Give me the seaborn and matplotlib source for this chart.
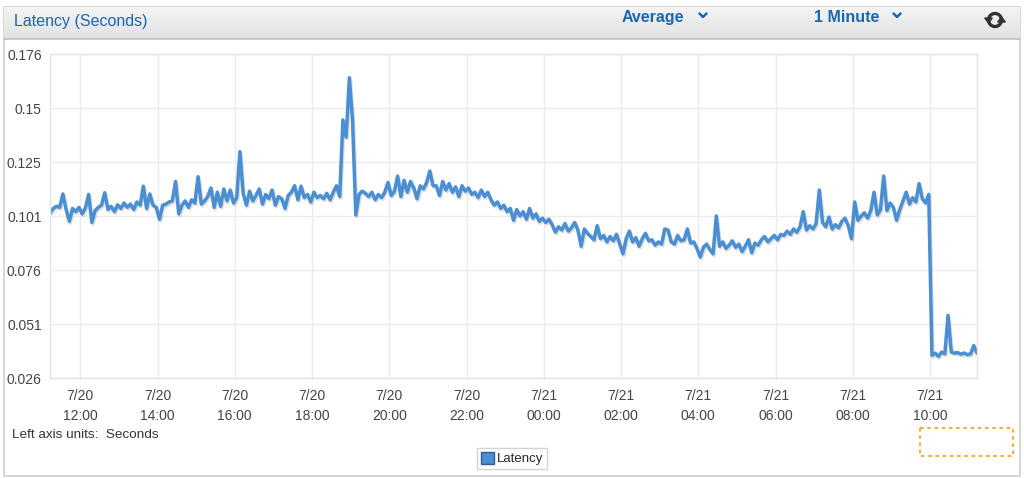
import matplotlib
matplotlib.use("Agg")
import numpy as np
import pandas as pd
import matplotlib.pyplot as plt
import matplotlib.dates as mdates
import matplotlib.patheffects as pe
from matplotlib.patches import Rectangle, Patch, Polygon
from matplotlib.colors import LinearSegmentedColormap
import seaborn as sns

# ---------------- data ----------------
chart_title = "Latency (Seconds)"
statistic_label = "Average"
period_label = "1 Minute"
series_name = "Latency"
units_note = "Left axis units:  Seconds"

start_time = "2013-07-20 11:13"
step_minutes = 5

latency_values = [
    # 11:13 - 12:08
    0.1025, 0.1045, 0.1055, 0.1050, 0.1112, 0.1040, 0.0985, 0.1045, 0.1030, 0.1050, 0.1020, 0.1048,
    # 12:13 - 13:08
    0.1110, 0.0980, 0.1035, 0.1050, 0.1060, 0.1118, 0.1040, 0.1055, 0.1030, 0.1062, 0.1045, 0.1070,
    # 13:13 - 14:08
    0.1050, 0.1065, 0.1040, 0.1075, 0.1060, 0.1148, 0.1045, 0.1112, 0.1060, 0.1050, 0.0995, 0.1060,
    # 14:13 - 15:08
    0.1065, 0.1075, 0.1080, 0.1170, 0.1020, 0.1060, 0.1080, 0.1050, 0.1085, 0.1070, 0.1192, 0.1065,
    # 15:13 - 16:08
    0.1080, 0.1100, 0.1140, 0.1050, 0.1120, 0.1055, 0.1135, 0.1080, 0.1130, 0.1070, 0.1095, 0.1308,
    # 16:13 - 17:08
    0.1115, 0.1060, 0.1125, 0.1080, 0.1105, 0.1135, 0.1065, 0.1110, 0.1090, 0.1130, 0.1060, 0.1100,
    # 17:13 - 18:08
    0.1090, 0.1045, 0.1105, 0.1120, 0.1150, 0.1085, 0.1148, 0.1095, 0.1110, 0.1075, 0.1120, 0.1095,
    # 18:13 - 19:08
    0.1105, 0.1090, 0.1115, 0.1085, 0.1120, 0.1150, 0.1100, 0.1455, 0.1375, 0.1650, 0.1450, 0.1015,
    # 19:13 - 20:08
    0.1110, 0.1125, 0.1115, 0.1100, 0.1120, 0.1085, 0.1110, 0.1095, 0.1120, 0.1165, 0.1105, 0.1125,
    # 20:13 - 21:08
    0.1195, 0.1100, 0.1175, 0.1120, 0.1170, 0.1140, 0.1090, 0.1150, 0.1135, 0.1165, 0.1218, 0.1150,
    # 21:13 - 22:08
    0.1150, 0.1105, 0.1170, 0.1130, 0.1160, 0.1120, 0.1145, 0.1100, 0.1150, 0.1125, 0.1140, 0.1110,
    # 22:13 - 23:08
    0.1120, 0.1095, 0.1130, 0.1100, 0.1120, 0.1085, 0.1060, 0.1075, 0.1045, 0.1060, 0.1030, 0.1045,
    # 23:13 - 00:08
    0.0990, 0.1040, 0.1010, 0.1030, 0.0995, 0.1045, 0.1000, 0.1020, 0.0985, 0.1000, 0.0980, 0.0995,
    # 00:13 - 01:08
    0.0970, 0.0935, 0.0960, 0.0945, 0.0975, 0.0940, 0.0955, 0.0980, 0.0945, 0.0870, 0.0950, 0.0930,
    # 01:13 - 02:08
    0.0915, 0.0900, 0.0965, 0.0905, 0.0920, 0.0890, 0.0915, 0.0895, 0.0925, 0.0880, 0.0835, 0.0905,
    # 02:13 - 03:08
    0.0940, 0.0890, 0.0910, 0.0870, 0.0905, 0.0930, 0.0895, 0.0900, 0.0875, 0.0890, 0.0880, 0.0950,
    # 03:13 - 04:08
    0.0945, 0.0890, 0.0880, 0.0920, 0.0895, 0.0900, 0.0950, 0.0885, 0.0890, 0.0860, 0.0820, 0.0865,
    # 04:13 - 05:08
    0.0880, 0.0855, 0.0835, 0.1010, 0.0870, 0.0890, 0.0860, 0.0875, 0.0895, 0.0865, 0.0880, 0.0845,
    # 05:13 - 06:08
    0.0870, 0.0900, 0.0840, 0.0885, 0.0875, 0.0900, 0.0915, 0.0890, 0.0905, 0.0920, 0.0900, 0.0925,
    # 06:13 - 07:08
    0.0920, 0.0940, 0.0925, 0.0950, 0.0935, 0.0960, 0.1030, 0.0945, 0.0965, 0.0950, 0.0975, 0.1130,
    # 07:13 - 08:08
    0.0980, 0.0960, 0.1005, 0.0950, 0.0970, 0.0955, 0.0985, 0.1000, 0.0965, 0.0905, 0.1075, 0.0990,
    # 08:13 - 09:08
    0.1010, 0.1025, 0.1000, 0.1035, 0.1120, 0.1015, 0.1040, 0.1195, 0.1035, 0.1070, 0.1050, 0.0990,
    # 09:13 - 10:08
    0.1040, 0.1080, 0.1120, 0.1065, 0.1095, 0.1075, 0.1160, 0.1090, 0.1070, 0.1110, 0.0365, 0.0375,
    # 10:13 - 11:08
    0.0360, 0.0380, 0.0372, 0.0550, 0.0380, 0.0375, 0.0378, 0.0370, 0.0376, 0.0368, 0.0372, 0.0410,
    # 11:13
    0.0375,
]

y_ticks = [0.026, 0.051, 0.076, 0.101, 0.126, 0.151, 0.176]
y_tick_labels = ["0.026", "0.051", "0.076", "0.101", "0.125", "0.15", "0.176"]

x_tick_times = ["2013-07-20 12:00", "2013-07-20 14:00", "2013-07-20 16:00", "2013-07-20 18:00",
                "2013-07-20 20:00", "2013-07-20 22:00", "2013-07-21 00:00", "2013-07-21 02:00",
                "2013-07-21 04:00", "2013-07-21 06:00", "2013-07-21 08:00", "2013-07-21 10:00"]
x_tick_labels = ["7/20\n12:00", "7/20\n14:00", "7/20\n16:00", "7/20\n18:00", "7/20\n20:00",
                 "7/20\n22:00", "7/21\n00:00", "7/21\n02:00", "7/21\n04:00", "7/21\n06:00",
                 "7/21\n08:00", "7/21\n10:00"]

# ---------------- styling ----------------
sns.set_theme(style="white")
plt.rcParams["font.family"] = ["Liberation Sans", "DejaVu Sans"]

W, H = 1024, 478
fig = plt.figure(figsize=(W / 100, H / 100), dpi=100)
fig.patch.set_facecolor("white")

BLUE_TXT = "#1b66b0"
LINE_BLUE = "#4a8fd3"

# overlay in pixel coordinates for panel chrome
ov = fig.add_axes([0, 0, 1, 1], zorder=0)
ov.axis("off")
ov.add_patch(Rectangle((3.5, 6.5), 1016, 469, fill=False, ec="#cfcfcf", lw=1.2))
grad = np.linspace(0, 1, 60).reshape(-1, 1)
cmap = LinearSegmentedColormap.from_list("hdr", ["#f4f4f4", "#e2e2e2"])
ov.imshow(grad, extent=(4, 1019.5, 38.5, 7), aspect="auto", cmap=cmap, zorder=1)
ov.plot([4, 1019.5], [39, 39], color="#c2c2c2", lw=1.2, zorder=2)
ov.text(14, 21, chart_title, color=BLUE_TXT, fontsize=11.5, ha="left", va="center", zorder=3)
ov.text(653, 17, statistic_label, color=BLUE_TXT, fontsize=11.5, fontweight="bold",
        ha="center", va="center", zorder=3)
ov.text(847, 17, period_label, color=BLUE_TXT, fontsize=11.5, fontweight="bold",
        ha="center", va="center", zorder=3)
for cx in (703, 897):
    ov.plot([cx - 3.5, cx, cx + 3.5], [13.5, 17, 13.5], color=BLUE_TXT, lw=1.8,
            solid_capstyle="round", zorder=3)

# refresh icon
cx, cy, r = 995, 20, 6.5
th = np.radians(np.linspace(15, 160, 40))
ov.plot(cx + r * np.cos(th), cy - r * np.sin(th), color="#333333", lw=2.4, zorder=3)
ov.add_patch(Polygon([(cx - r - 3.8, cy - 2.0), (cx - r + 3.8, cy - 2.0), (cx - r, cy + 3.0)],
                     closed=True, color="#333333", zorder=3))
th = np.radians(np.linspace(195, 340, 40))
ov.plot(cx + r * np.cos(th), cy - r * np.sin(th), color="#333333", lw=2.4, zorder=3)
ov.add_patch(Polygon([(cx + r - 3.8, cy + 2.0), (cx + r + 3.8, cy + 2.0), (cx + r, cy - 3.0)],
                     closed=True, color="#333333", zorder=3))

ov.text(12, 435, units_note, color="#333333", fontsize=9.7, ha="left", va="center", zorder=3)
ov.add_patch(Rectangle((920, 428), 93, 28, fill=False, ec="#f5a623", lw=1.3,
                       ls=(0, (2, 2)), zorder=3))
ov.set_xlim(0, W)
ov.set_ylim(H, 0)

# main chart
ax = fig.add_axes([50 / W, 1 - 378 / H, 927 / W, 324 / H], zorder=2)
ax.set_facecolor("white")
times = pd.date_range(start_time, periods=len(latency_values), freq=f"{step_minutes}min")
df = pd.DataFrame({"time": times, "latency": latency_values})
sns.lineplot(data=df, x="time", y="latency", ax=ax, color=LINE_BLUE, linewidth=2.5)
ln = ax.lines[0]
ln.set_path_effects([pe.SimpleLineShadow(offset=(0.8, -1.2), shadow_color="#777777", alpha=0.25),
                     pe.Normal()])

ax.set_xlim(mdates.date2num(times[0].to_pydatetime()), mdates.date2num(times[-1].to_pydatetime()))
ax.set_ylim(y_ticks[0], y_ticks[-1])
ax.set_yticks(y_ticks)
ax.set_yticklabels(y_tick_labels)
xt = [mdates.date2num(pd.Timestamp(t).to_pydatetime()) for t in x_tick_times]
ax.set_xticks(xt)
ax.set_xticklabels(x_tick_labels)
ax.set_xlabel("")
ax.set_ylabel("")
ax.grid(True, color="#ebebeb", lw=1)
for s in ax.spines.values():
    s.set_color("#e4e4e4")
    s.set_linewidth(1)
ax.tick_params(length=0, labelsize=10, colors="#444444")
ax.tick_params(axis="y", pad=6)
ax.tick_params(axis="x", pad=8)
for lbl in ax.get_xticklabels():
    lbl.set_linespacing(1.55)

fig.legend(handles=[Patch(facecolor=LINE_BLUE, edgecolor="#2f5f8f", label=series_name)],
           loc="center", bbox_to_anchor=(512 / W, 1 - 458.5 / H), frameon=True,
           fancybox=False, edgecolor="#d4d4d4", framealpha=1, fontsize=9.5,
           handlelength=1.0, handleheight=1.0, handletextpad=0.2, borderpad=0.3,
           borderaxespad=0)

fig.savefig("out.png", dpi=100)
